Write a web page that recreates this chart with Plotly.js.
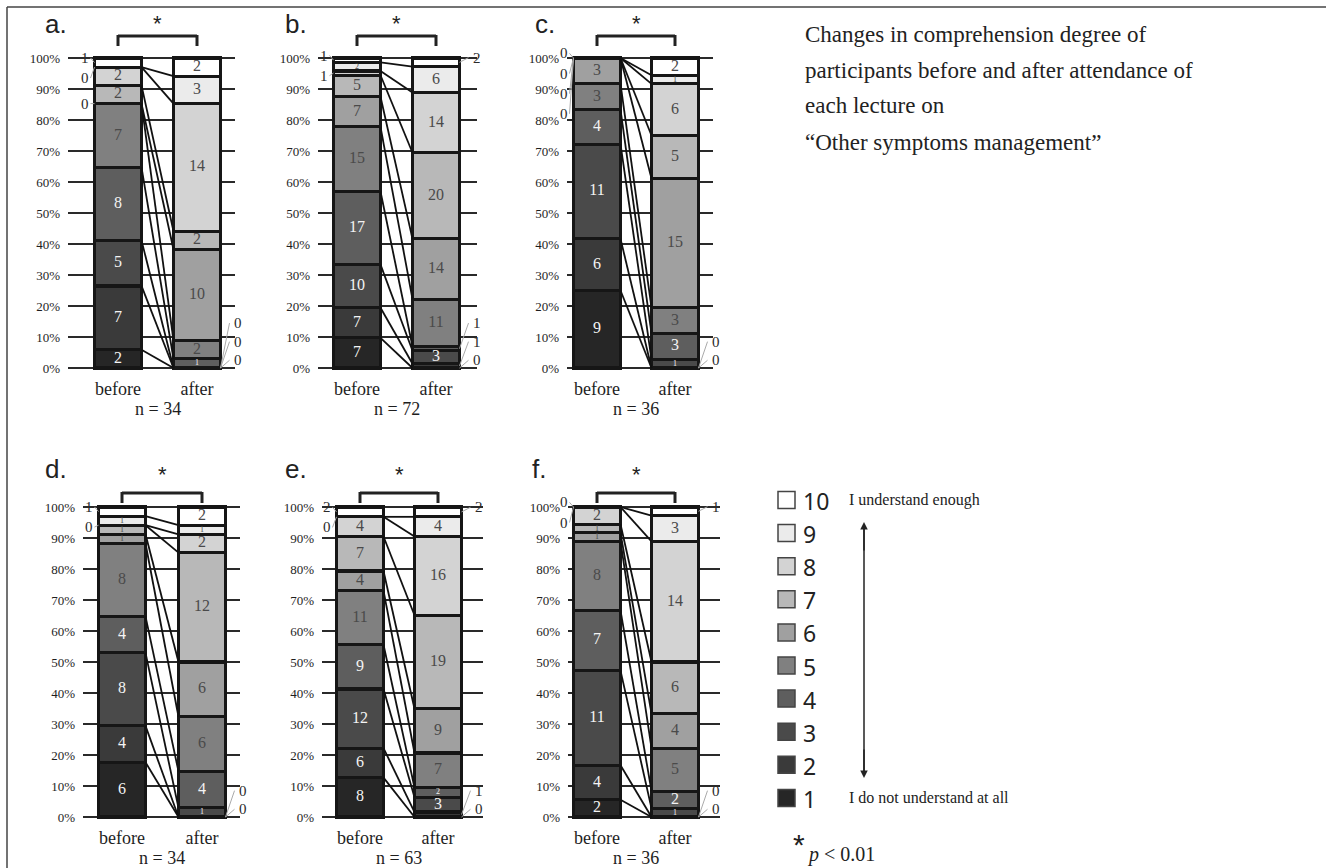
<!DOCTYPE html>
<html><head><meta charset="utf-8">
<script src="https://cdn.plot.ly/plotly-3.0.1.min.js"></script>
<style>html,body{margin:0;padding:0;background:#fff}#chart{width:1326px;height:868px}</style>
</head><body><div id="chart"></div>
<script>
// ---------- data ----------
const levels = ['1','2','3','4','5','6','7','8','9','10'];
const groups = ['before','after'];
const panelNames = ['a.','b.','c.','d.','e.','f.'];
const a_before = [2,7,5,8,7,0,2,2,0,1];
const a_after  = [0,0,0,1,2,10,2,14,3,2];
const b_before = [7,7,10,17,15,7,5,1,2,1];
const b_after  = [0,1,3,1,11,14,20,14,6,2];
const c_before = [9,6,11,4,3,3,0,0,0,0];
const c_after  = [0,0,1,3,3,15,5,6,1,2];
const d_before = [6,4,8,4,8,1,1,0,1,1];
const d_after  = [0,0,1,4,6,6,12,2,1,2];
const e_before = [8,6,12,9,11,4,7,4,0,2];
const e_after  = [0,1,3,2,7,9,19,16,4,2];
const f_before = [2,4,11,7,8,1,1,2,0,0];
const f_after  = [0,0,1,2,5,4,6,14,3,1];
const yTicks = [0,10,20,30,40,50,60,70,80,90,100];
const titleLines = ['Changes in comprehension degree of','participants before and after attendance of','each lecture on','\u201COther symptoms management\u201D'];
const scaleTop = 'I understand enough';
const scaleBottom = 'I do not understand at all';
const sigNote = '<i>p</i> &lt; 0.01';

const panels = [[a_before,a_after],[b_before,b_after],[c_before,c_after],[d_before,d_after],[e_before,e_after],[f_before,f_after]];

// ---------- styling / layout geometry (pixels) ----------
const W = 1326, H = 868;
const colors = ['#262626','#3a3a3a','#4a4a4a','#5e5e5e','#808080','#a0a0a0','#b8b8b8','#d3d3d3','#ebebeb','#ffffff'];
const geo = [
  {gx0:68, gx1:235,cb:118,ca:197,y100:58, y0:368,lx:43, ly:24, br:36, st:24},
  {gx0:318,gx1:477,cb:357,ca:436,y100:58, y0:368,lx:283,ly:24, br:36, st:24},
  {gx0:567,gx1:713,cb:597,ca:675,y100:58, y0:368,lx:533,ly:24, br:36, st:24},
  {gx0:83, gx1:240,cb:122,ca:202,y100:507,y0:817,lx:43, ly:469,br:493,st:474},
  {gx0:322,gx1:483,cb:360,ca:438,y100:507,y0:817,lx:283,ly:469,br:493,st:474},
  {gx0:568,gx1:720,cb:597,ca:675,y100:507,y0:817,lx:530,ly:469,br:493,st:474}
];
const serif = 'Liberation Serif';
const sans = 'Liberation Sans';
const px = x => x / W;
const py = y => 1 - y / H;

const traces = [];
const layout = {
  width: W, height: H, margin:{l:0,r:0,t:0,b:0},
  paper_bgcolor:'#fff', plot_bgcolor:'rgba(0,0,0,0)',
  barmode:'stack', bargap:0, showlegend:false,
  shapes:[], annotations:[]
};

panels.forEach((pd, p) => {
  const g = geo[p];
  const u = g.ca - g.cb;              // px per x unit
  const w = 47 / u;                   // bar width in units
  const ppp = (g.y0 - g.y100) / 100;  // px per percent
  const pad = 2.5;
  const sfx = p === 0 ? '' : String(p + 1);
  const xa = 'xaxis' + sfx, ya = 'yaxis' + sfx;
  const xr = 'x' + sfx, yr = 'y' + sfx;
  layout[xa] = {
    domain:[px(g.gx0), px(g.gx1)],
    range:[-(g.cb - g.gx0)/u, 1 + (g.gx1 - g.ca)/u],
    anchor: yr, showgrid:false, zeroline:false, showline:false, ticks:'',
    tickvals:[0,1], ticktext:groups, ticklabelstandoff:3 + pad*ppp,
    tickfont:{family:serif,size:18,color:'#1e1e1e'}
  };
  layout[ya] = {
    domain:[py(g.y0 + pad*ppp), py(g.y100 - pad*ppp)],
    range:[-pad, 100 + pad], anchor: xr,
    tickvals:yTicks, ticktext:yTicks.map(v => v + '%'),
    showgrid:true, gridcolor:'#2a2a2a', gridwidth:1.6, zeroline:false, showline:false,
    ticks:'', ticklabelstandoff:7,
    tickfont:{family:serif,size:13,color:'#1e1e1e'}
  };

  const n = pd.map(arr => arr.reduce((s,v)=>s+v,0));
  const pct = pd.map((arr,s) => arr.map(v => v / n[s] * 100));
  const cum = pct.map(arr => { let c=0; return arr.map(v => (c += v)); });

  // stacked bars: one trace per level
  levels.forEach((lv, k) => {
    traces.push({
      type:'bar', x:[0,1], y:[pct[0][k], pct[1][k]], width:[w,w],
      xaxis:xr, yaxis:yr, name:lv,
      marker:{color:colors[k], line:{color:'#161616', width:3.2}},
      hoverinfo:'skip'
    });
  });

  // connecting lines between category boundaries
  const lx = [], ly = [];
  for (let k = 0; k < levels.length - 1; k++) {
    lx.push(w/2, 1 - w/2, null);
    ly.push(cum[0][k], cum[1][k], null);
  }
  traces.push({type:'scatter', mode:'lines', x:lx, y:ly, xaxis:xr, yaxis:yr,
    line:{color:'#111', width:1.8}, hoverinfo:'skip', cliponaxis:false});

  // value labels
  const tx=[], ty=[], tt=[], tc=[], ts=[];
  const leadX=[], leadY=[];
  [0,1].forEach(s => {
    const outs = [];
    levels.forEach((lv,k) => {
      const v = pd[s][k], pc = pct[s][k];
      const mid = cum[s][k] - pc/2;
      const outside = v === 0 || pc < 2 || (k === levels.length-1 && pc < 3.5);
      if (outside) outs.push({v, anchor:mid});
      else {
        tx.push(s); ty.push(mid); tt.push(String(v));
        tc.push(k < 4 ? '#f4f4f4' : '#4a4a4a');
        ts.push(pc < 3.5 ? 8 : 16);
      }
    });
    const top = outs.filter(o => o.anchor >= 50).sort((a,b)=>b.anchor-a.anchor);
    const bot = outs.filter(o => o.anchor < 50).sort((a,b)=>a.anchor-b.anchor);
    let prev = null;
    top.forEach(o => { o.y = prev === null ? Math.min(o.anchor + 1.5, 101.5) : Math.min(o.anchor, prev - 6.5); prev = o.y; });
    prev = null;
    bot.forEach(o => { o.y = prev === null ? Math.max(o.anchor, 2.5) : Math.max(o.anchor, prev + 6); prev = o.y; });
    top.concat(bot).forEach(o => {
      const edge = s === 0 ? -w/2 : 1 + w/2;
      const labelPx = s === 0 ? g.cb - 24 - 9 : g.ca + 24 + 17;
      layout.annotations.push({xref:'paper', yref:yr, x:px(labelPx), y:o.y, text:String(o.v), showarrow:false,
        xanchor:'center', yanchor:'middle', font:{family:serif, size:15, color:'#2a2a2a'}});
      leadX.push(edge, s === 0 ? edge - 4/u : edge + 9/u, null);
      leadY.push(o.anchor, o.y, null);
    });
  });
  traces.push({type:'scatter', mode:'lines', x:leadX, y:leadY, xaxis:xr, yaxis:yr,
    line:{color:'#aaa', width:1}, hoverinfo:'skip', cliponaxis:false});
  traces.push({type:'scatter', mode:'text', x:tx, y:ty, text:tt, xaxis:xr, yaxis:yr,
    textfont:{family:serif, size:ts, color:tc}, textposition:'middle center',
    hoverinfo:'skip', cliponaxis:false});

  // significance bracket
  const bl = {color:'#222', width:3};
  layout.shapes.push({type:'line', xref:'paper', yref:'paper', x0:px(g.cb), x1:px(g.ca), y0:py(g.br), y1:py(g.br), line:bl});
  layout.shapes.push({type:'line', xref:'paper', yref:'paper', x0:px(g.cb), x1:px(g.cb), y0:py(g.br-1), y1:py(g.br+10), line:bl});
  layout.shapes.push({type:'line', xref:'paper', yref:'paper', x0:px(g.ca), x1:px(g.ca), y0:py(g.br-1), y1:py(g.br+10), line:bl});
  layout.annotations.push({xref:'paper', yref:'paper', x:px((g.cb+g.ca)/2), y:py(g.st), text:'*', showarrow:false,
    xanchor:'center', yanchor:'middle', font:{family:sans, size:22, color:'#222'}});
  // panel letter
  layout.annotations.push({xref:'paper', yref:'paper', x:px(g.lx), y:py(g.ly), text:panelNames[p], showarrow:false,
    xanchor:'left', yanchor:'middle', font:{family:sans, size:26, color:'#222'}});
  // n =
  layout.annotations.push({xref:'paper', yref:'paper', x:px((g.cb+g.ca)/2), y:py(g.y0 + 41), text:'n = ' + n[0], showarrow:false,
    xanchor:'center', yanchor:'middle', font:{family:serif, size:18, color:'#1e1e1e'}});
});

// frame
layout.shapes.push({type:'line', xref:'paper', yref:'paper', x0:px(7), x1:1, y0:py(7), y1:py(7), line:{color:'#444', width:1.5}});
layout.shapes.push({type:'line', xref:'paper', yref:'paper', x0:px(7), x1:px(7), y0:py(7), y1:0, line:{color:'#444', width:1.5}});

// title
titleLines.forEach((t,i) => {
  layout.annotations.push({xref:'paper', yref:'paper', x:px(803), y:py(34 + i*36), text:t, showarrow:false,
    xanchor:'left', yanchor:'middle', font:{family:serif, size:23, color:'#222'}});
});

// custom legend
levels.slice().reverse().forEach((lv, i) => {
  const k = levels.length - 1 - i;
  const yc = 500 + i * 33.1;
  layout.shapes.push({type:'rect', xref:'paper', yref:'paper', x0:px(778), x1:px(795), y0:py(yc+8.5), y1:py(yc-8.5),
    fillcolor:colors[k], line:{color:'#444', width:1.5}});
  layout.annotations.push({xref:'paper', yref:'paper', x:px(801), y:py(yc+1), text:lv, showarrow:false,
    xanchor:'left', yanchor:'middle', font:{family:'Noto Sans', size:23, color:'#222'}});
});
layout.annotations.push({xref:'paper', yref:'paper', x:px(847), y:py(500), text:scaleTop, showarrow:false,
  xanchor:'left', yanchor:'middle', font:{family:serif, size:16, color:'#222'}});
layout.annotations.push({xref:'paper', yref:'paper', x:px(847), y:py(797), text:scaleBottom, showarrow:false,
  xanchor:'left', yanchor:'middle', font:{family:serif, size:16, color:'#222'}});
layout.shapes.push({type:'line', xref:'paper', yref:'paper', x0:px(864), x1:px(864), y0:py(526), y1:py(774), line:{color:'#222', width:1.5}});
layout.annotations.push({xref:'paper', yref:'paper', x:px(864), y:py(522), ax:0, ay:30, text:'', showarrow:true,
  arrowhead:2, arrowsize:1, arrowwidth:1.5, arrowcolor:'#222', standoff:0});
layout.annotations.push({xref:'paper', yref:'paper', x:px(864), y:py(778), ax:0, ay:-30, text:'', showarrow:true,
  arrowhead:2, arrowsize:1, arrowwidth:1.5, arrowcolor:'#222', standoff:0});
layout.annotations.push({xref:'paper', yref:'paper', x:px(799), y:py(844), text:'*', showarrow:false,
  xanchor:'center', yanchor:'middle', font:{family:sans, size:30, color:'#222'}});
layout.annotations.push({xref:'paper', yref:'paper', x:px(805), y:py(854), text:sigNote, showarrow:false,
  xanchor:'left', yanchor:'middle', font:{family:serif, size:20, color:'#222'}});

Plotly.newPlot('chart', traces, layout, {staticPlot:true, displayModeBar:false});
</script></body></html>
